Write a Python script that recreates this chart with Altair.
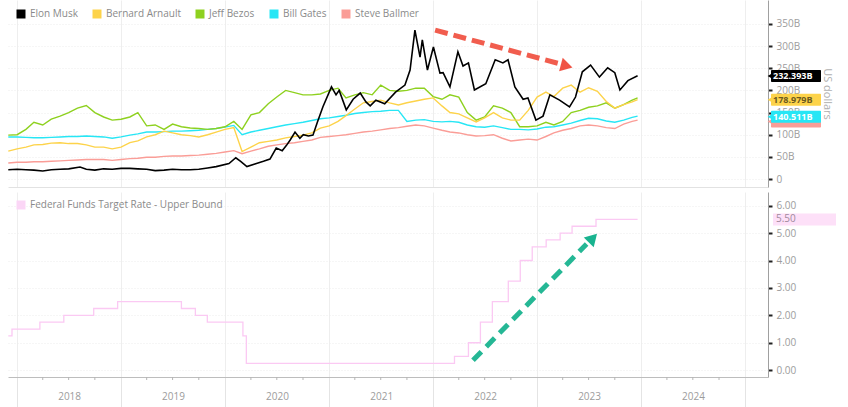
import altair as alt
import pandas as pd

# ---------------- data ----------------
names = ["Elon Musk", "Bernard Arnault", "Jeff Bezos", "Bill Gates", "Steve Ballmer"]
palette = ["#000000", "#fdd34a", "#8ed11f", "#27e6f5", "#fa9d97"]

# monthly dates (1st of month) Dec 2017 .. Dec 2023 plus last observation
month_dates = pd.date_range("2017-12-01", "2023-12-01", freq="MS").strftime("%Y-%m-%d").tolist() + ["2023-12-20"]

arnault = [63,
           68, 72, 77, 78, 81, 82, 80, 80, 77, 72, 72, 68,
           72, 82, 86, 95, 100, 108, 104, 100, 98, 95, 100, 106,
           112, 116, 62, 72, 82, 85, 88, 93, 96, 99, 104, 115,
           120, 130, 143, 158, 172, 175, 178, 172, 167, 172, 176, 180,
           183, 165, 150, 147, 138, 129, 138, 150, 138, 133, 133, 155,
           185, 196, 186, 205, 212, 196, 206, 198, 175, 160, 168, 174,
           179]
bezos = [99,
         100, 112, 128, 122, 135, 142, 150, 160, 166, 150, 140, 133,
         135, 140, 150, 120, 122, 112, 124, 118, 115, 114, 112, 114,
         118, 130, 112, 145, 150, 170, 185, 200, 195, 190, 190, 192,
         200, 205, 183, 190, 195, 190, 212, 200, 198, 200, 205, 205,
         186, 180, 190, 185, 150, 133, 140, 165, 160, 150, 118, 118,
         120, 128, 122, 130, 150, 155, 162, 165, 172, 160, 168, 178,
         183]
gates = [95,
         95, 94, 93, 93, 94, 95, 96, 96, 97, 96, 95, 92,
         95, 99, 102, 106, 106, 107, 108, 108, 109, 110, 112, 114,
         117, 121, 100, 106, 110, 114, 118, 122, 125, 128, 132, 136,
         138, 141, 144, 148, 150, 152, 153, 155, 155, 130, 133, 134,
         130, 129, 130, 128, 122, 118, 117, 120, 116, 112, 112, 111,
         113, 117, 118, 122, 126, 132, 137, 136, 131, 128, 133, 139,
         142]
ballmer = [36,
           38, 38, 39, 39, 40, 41, 42, 43, 44, 44, 44, 42,
           44, 46, 47, 49, 49, 51, 52, 52, 53, 54, 56, 58,
           61, 64, 57, 63, 68, 74, 77, 80, 82, 85, 88, 94,
           96, 98, 100, 103, 106, 108, 111, 114, 116, 119, 122, 120,
           115, 110, 106, 104, 100, 97, 98, 100, 92, 86, 88, 90,
           88, 96, 104, 110, 114, 120, 122, 120, 116, 114, 124, 130,
           133]

musk_dates = ["2017-12-01", "2018-01-01", "2018-02-01", "2018-03-01", "2018-04-01", "2018-05-01",
              "2018-06-01", "2018-07-01", "2018-08-10", "2018-09-01", "2018-10-01", "2018-11-01",
              "2018-12-01", "2019-01-01", "2019-02-01", "2019-03-01", "2019-04-01", "2019-05-01",
              "2019-06-01", "2019-07-01", "2019-08-01", "2019-09-01", "2019-10-01", "2019-11-01",
              "2019-12-01", "2020-01-15", "2020-02-08", "2020-02-25", "2020-03-18", "2020-04-15",
              "2020-05-15", "2020-06-07", "2020-06-29", "2020-07-20", "2020-08-04", "2020-08-17",
              "2020-09-03", "2020-09-20", "2020-10-02", "2020-10-20", "2020-11-05", "2020-11-21",
              "2020-12-10", "2021-01-09", "2021-01-25", "2021-02-05", "2021-03-02", "2021-03-26",
              "2021-04-20", "2021-05-10", "2021-05-25", "2021-06-14", "2021-07-15", "2021-08-22",
              "2021-09-24", "2021-10-12", "2021-10-29", "2021-11-16", "2021-11-24", "2021-12-12",
              "2022-01-02", "2022-01-25", "2022-02-05", "2022-03-01", "2022-03-29", "2022-04-16",
              "2022-05-05", "2022-05-26", "2022-07-05", "2022-08-07", "2022-09-03", "2022-09-21",
              "2022-10-15", "2022-11-13", "2022-11-30", "2022-12-28", "2023-01-22", "2023-02-15",
              "2023-03-21", "2023-04-25", "2023-05-16", "2023-06-09", "2023-07-08", "2023-08-08",
              "2023-09-06", "2023-10-01", "2023-10-19", "2023-11-16", "2023-12-20"]
musk = [21, 22, 21, 20, 18, 21,
        22, 23, 27, 22, 20, 23,
        22, 24, 24, 23, 22, 19,
        20, 22, 21, 21, 22, 25,
        28, 35, 48, 40, 28, 34,
        40, 45, 70, 64, 76, 88,
        106, 92, 100, 97, 99, 129,
        163, 208, 190, 200, 156, 180,
        194, 174, 165, 178, 170, 196,
        212, 246, 336, 275, 314, 246,
        298, 239, 240, 208, 287, 255,
        262, 201, 215, 269, 262, 269,
        208, 180, 183, 133, 142, 190,
        178, 163, 185, 242, 257, 230,
        251, 240, 201, 222, 233]

fed_label = "Federal Funds Target Rate - Upper Bound"
fed_dates = ["2017-12-01", "2017-12-14", "2018-03-22", "2018-06-14", "2018-09-27", "2018-12-20",
             "2019-08-01", "2019-09-19", "2019-10-31", "2020-03-04", "2020-03-16", "2022-03-17",
             "2022-05-05", "2022-06-16", "2022-07-28", "2022-09-22", "2022-11-03", "2022-12-15",
             "2023-02-02", "2023-03-23", "2023-05-04", "2023-07-27", "2023-12-20"]
fed_rates = [1.25, 1.50, 1.75, 2.00, 2.25, 2.50,
             2.25, 2.00, 1.75, 1.25, 0.25, 0.50,
             1.00, 1.75, 2.50, 3.25, 4.00, 4.50,
             4.75, 5.00, 5.25, 5.50, 5.50]

# last-value callouts (Ballmer's tag is hidden under Gates')
callout_names = ["Steve Ballmer", "Bill Gates", "Bernard Arnault", "Elon Musk"]
callout_values = [130.0, 140.511, 178.979, 232.393]
callout_texts = ["", "140.511B", "178.979B", "232.393B"]
rate_callout_value = 5.50
rate_callout_text = "5.50"

# annotation arrows (data coordinates)
red_arrow = {"date": ["2022-01-08"], "date2": ["2023-03-22"], "value": [336], "value2": [260]}
red_head = {"date": ["2023-04-15"], "value": [255]}
teal_arrow = {"date": ["2022-05-21"], "date2": ["2023-06-24"], "value": [0.36], "value2": [4.60]}
teal_head = {"date": ["2023-07-16"], "value": [4.82]}

# ---------------- tables ----------------
rows = []
for nm, vals in [("Bernard Arnault", arnault), ("Jeff Bezos", bezos), ("Bill Gates", gates), ("Steve Ballmer", ballmer)]:
    for d, v in zip(month_dates, vals):
        rows.append({"date": d, "name": nm, "value": v})
for d, v in zip(musk_dates, musk):
    rows.append({"date": d, "name": "Elon Musk", "value": v})
wealth = pd.DataFrame(rows)
fed = pd.DataFrame({"date": fed_dates, "rate": fed_rates, "series": fed_label})

# ---------------- styling ----------------
FONT = "Open Sans"
W, H1, H2 = 760, 187, 185
LBL = "#9c9c9c"
RED = "#ef4b3b"
TEAL = "#19b38f"
PINK = "#fbc9f3"

def dt(y, m, d):
    return alt.DateTime(year=y, month=m, date=d, utc=True)

xscale = alt.Scale(domain=[dt(2017, 11, 30), dt(2025, 3, 22)])
year_ticks = [dt(y, 1, 1) for y in range(2018, 2026)]
quarter_dates = [d.strftime("%Y-%m-%d") for d in pd.date_range("2018-01-01", "2024-12-31", freq="QS") if d.month != 1]

top_xaxis = alt.Axis(values=year_ticks, grid=True, gridColor="#eeeeee", labels=False, ticks=False,
                     domainColor="#e2e2e2", title=None)
top_yscale = alt.Scale(domain=[-18, 404], nice=False, zero=False)
top_yaxis = alt.Axis(orient="right", values=list(range(0, 351, 50)),
                     labelExpr="datum.value == 0 ? '0' : datum.value + 'B'",
                     title="US dollars", titleColor="#b0b0b0", titleFontSize=11, titleFontWeight="normal",
                     titlePadding=22, tickSize=4, tickWidth=2, tickColor="#222222", domainColor="#a0a0a0",
                     labelColor=LBL, labelFontSize=10, labelPadding=4, grid=True, gridColor="#ececec",
                     gridDash=[1, 2])

bot_xaxis = alt.Axis(values=year_ticks, grid=True, gridColor="#eeeeee", tickSize=30, tickColor="#e4e4e4",
                     labelExpr="utcyear(datum.value) < 2025 ? utcFormat(datum.value, '%Y') : ''",
                     labelOffset=52, labelPadding=-16, labelFlush=False, labelColor=LBL, labelFontSize=10,
                     domainColor="#bdbdbd", title=None)
bot_yscale = alt.Scale(domain=[-0.25, 6.5], nice=False, zero=False)
bot_yaxis = alt.Axis(orient="right", values=[0, 1, 2, 3, 4, 5, 6], format=".2f", title=None,
                     tickSize=4, tickWidth=2, tickColor="#222222", domainColor="#a0a0a0",
                     labelColor=LBL, labelFontSize=10, labelPadding=4, grid=True, gridColor="#ececec",
                     gridDash=[1, 2])

def X1(f="date"):
    return alt.X(f"{f}:T", scale=xscale, axis=top_xaxis)

def Y1(f="value"):
    return alt.Y(f"{f}:Q", scale=top_yscale, axis=top_yaxis)

def X2(f="date"):
    return alt.X(f"{f}:T", scale=xscale, axis=bot_xaxis)

def Y2(f="rate"):
    return alt.Y(f"{f}:Q", scale=bot_yscale, axis=bot_yaxis)

# ---------------- top panel ----------------
top_layers = []
# legend carrier: zero-size rects give filled square legend symbols
first = wealth.groupby("name", as_index=False).first()
top_layers.append(
    alt.Chart(first).mark_rect().encode(
        x=X1(), x2="date:T", y=Y1(), y2="value:Q",
        fill=alt.Fill("name:N", scale=alt.Scale(domain=names, range=palette),
                      legend=alt.Legend(orient="none", legendX=8, legendY=9, direction="horizontal",
                                        title=None, symbolType="square", symbolSize=81,
                                        symbolStrokeWidth=0, labelColor="#8a8a8a", labelFontSize=10,
                                        labelFont=FONT, columnPadding=14, labelOffset=4, padding=0))
    )
)
for nm, col in reversed(list(zip(names, palette))):
    top_layers.append(
        alt.Chart(wealth).transform_filter(alt.datum.name == nm)
        .mark_line(color=col, strokeWidth=1.6 if nm == "Elon Musk" else 1.4)
        .encode(x=X1(), y=Y1())
    )
top_layers.append(
    alt.Chart(pd.DataFrame(red_arrow)).mark_rule(color=RED, strokeWidth=5, strokeDash=[13, 6], opacity=0.9)
    .encode(x=X1(), x2="date2:T", y=Y1(), y2="value2:Q")
)
top_layers.append(
    alt.Chart(pd.DataFrame(red_head)).mark_point(shape="triangle-right", filled=True, size=190, angle=15,
                                                 color=RED, opacity=0.95)
    .encode(x=X1(), y=Y1())
)
pal = dict(zip(names, palette))
text_cols = {"Elon Musk": "#ffffff", "Bernard Arnault": "#6b5a20", "Bill Gates": "#ffffff", "Steve Ballmer": "#ffffff"}
for nm, val, txt in zip(callout_names, callout_values, callout_texts):
    d = pd.DataFrame({"value": [val], "label": [txt]})
    top_layers.append(
        alt.Chart(d).transform_calculate(hi="datum.value + 13.5", lo="datum.value - 13.5")
        .mark_rect(color=pal[nm], cornerRadius=1)
        .encode(x=alt.value(W + 3), x2=alt.value(W + 53), y=Y1("hi"), y2="lo:Q")
    )
    top_layers.append(
        alt.Chart(d).mark_point(shape="triangle-left", filled=True, size=30, color=pal[nm], opacity=1)
        .encode(x=alt.value(W + 2), y=Y1())
    )
    if txt:
        top_layers.append(
            alt.Chart(d).mark_text(align="left", baseline="middle", fontSize=9, font=FONT,
                                   fontWeight="bold", color=text_cols[nm])
            .encode(x=alt.value(W + 5), y=Y1(), text="label:N")
        )
top = alt.layer(*top_layers).properties(width=W, height=H1)

# ---------------- bottom panel ----------------
bot_layers = []
bot_layers.append(
    alt.Chart(fed.head(1)).mark_rect().encode(
        x=X2(), x2="date:T", y=Y2(), y2="rate:Q",
        fill=alt.Fill("series:N", scale=alt.Scale(domain=[fed_label], range=["#fbd6f6"]),
                      legend=alt.Legend(orient="none", legendX=8, legendY=8, title=None,
                                        symbolType="square", symbolSize=81, symbolStrokeWidth=0,
                                        labelColor="#8a8a8a", labelFontSize=10, labelFont=FONT,
                                        labelOffset=4, padding=0, labelLimit=400))
    )
)
bot_layers.append(
    alt.Chart(pd.DataFrame({"date": quarter_dates})).mark_rule(color="#b5b5b5", strokeWidth=1)
    .encode(x=X2(), y=alt.value(H2), y2=alt.value(H2 + 3))
)
bot_layers.append(
    alt.Chart(fed).mark_line(interpolate="step-after", color=PINK, strokeWidth=1.3)
    .encode(x=X2(), y=Y2())
)
bot_layers.append(
    alt.Chart(pd.DataFrame(teal_arrow)).mark_rule(color=TEAL, strokeWidth=5, strokeDash=[12, 7], opacity=0.95)
    .encode(x=X2(), x2="date2:T", y=Y2("value"), y2="value2:Q")
)
bot_layers.append(
    alt.Chart(pd.DataFrame(teal_head)).mark_point(shape="triangle-right", filled=True, size=190, angle=314,
                                                  color=TEAL, opacity=1)
    .encode(x=X2(), y=Y2("value"))
)
rd = pd.DataFrame({"rate": [rate_callout_value], "label": [rate_callout_text]})
bot_layers.append(
    alt.Chart(rd).transform_calculate(hi="datum.rate + 0.22", lo="datum.rate - 0.22")
    .mark_rect(color="#fde0f8")
    .encode(x=alt.value(W + 5), x2=alt.value(W + 68), y=Y2("hi"), y2="lo:Q")
)
bot_layers.append(
    alt.Chart(rd).mark_text(align="left", baseline="middle", fontSize=10, font=FONT, color="#a08a9c")
    .encode(x=alt.value(W + 8), y=Y2(), text="label:N")
)
bottom = alt.layer(*bot_layers).properties(width=W, height=H2)

chart = (
    alt.vconcat(top, bottom, spacing=5)
    .resolve_scale(fill="independent")
    .properties(padding={"left": 5, "top": 0, "right": 0, "bottom": 0})
    .configure(font=FONT)
    .configure_view(stroke=None)
)
chart.save("out.html", embed_options={"renderer": "svg", "actions": False})
